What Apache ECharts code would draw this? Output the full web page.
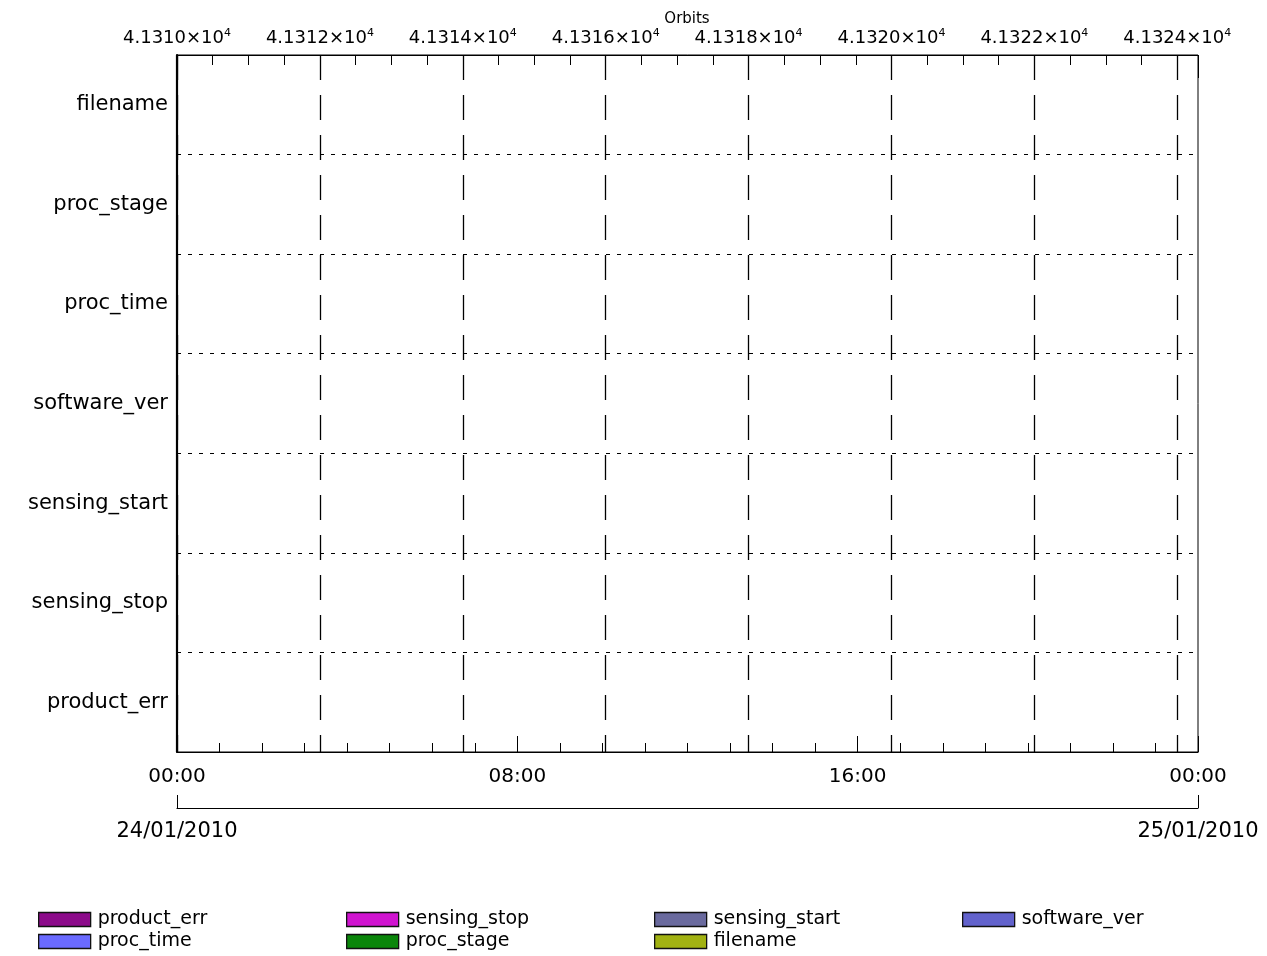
<!DOCTYPE html>
<html>
<head>
<meta charset="utf-8">
<script src="https://cdn.jsdelivr.net/npm/echarts@6/dist/echarts.min.js"></script>
<style>
html,body{margin:0;padding:0;background:#fff;}
#chart{width:1267px;height:956px;}
</style>
</head>
<body>
<div id="chart"></div>
<script>
// ---- data ----
const categories = ['filename', 'proc_stage', 'proc_time', 'software_ver', 'sensing_start', 'sensing_stop', 'product_err'];
const productErrValues = [];
const sensingStopValues = [];
const sensingStartValues = [];
const softwareVerValues = [];
const procTimeValues = [];
const procStageValues = [];
const filenameValues = [];
const timeTickLabels = ['00:00', '08:00', '16:00', '00:00'];
const dateLabels = ['24/01/2010', '25/01/2010'];
const orbitTickLabels = ['4.1310', '4.1312', '4.1314', '4.1316', '4.1318', '4.1320', '4.1322', '4.1324'];
const orbitAxisTitle = 'Orbits';
const orbitStart = 41310;
const orbitEnd = 41324.29;
const hourStart = 0;
const hourEnd = 24;

// ---- styles ----
const seriesDefs = [
  { name: 'product_err', values: productErrValues, color: '#8c0a8a' },
  { name: 'sensing_stop', values: sensingStopValues, color: '#d014d0' },
  { name: 'sensing_start', values: sensingStartValues, color: '#6a6a9e' },
  { name: 'software_ver', values: softwareVerValues, color: '#6262cc' },
  { name: 'proc_time', values: procTimeValues, color: '#6a6aff' },
  { name: 'proc_stage', values: procStageValues, color: '#0a860a' },
  { name: 'filename', values: filenameValues, color: '#a2b212' }
];
// legend layout: [name, column, row]
const legendSlots = [
  ['product_err', 0, 0], ['proc_time', 0, 1],
  ['sensing_stop', 1, 0], ['proc_stage', 1, 1],
  ['sensing_start', 2, 0], ['filename', 2, 1],
  ['software_ver', 3, 0]
];
const legendLefts = [38, 346, 654, 962];
const legendTops = [910, 932];
const FONT = 'DejaVu Sans';
const BLACK = '#000';

const chart = echarts.init(document.getElementById('chart'), null, { renderer: 'canvas' });

const option = {
  backgroundColor: '#fff',
  animation: false,
  textStyle: { fontFamily: FONT, color: BLACK },
  title: {
    text: orbitAxisTitle,
    left: 687, top: 12, padding: 0,
    textAlign: 'center',
    textStyle: { fontSize: 15, fontWeight: 'normal', color: BLACK, fontFamily: FONT }
  },
  grid: {
    left: 177, right: 69, top: 55, bottom: 204,
    show: true, borderColor: BLACK, borderWidth: 1, backgroundColor: 'transparent'
  },
  xAxis: [
    {
      type: 'value', position: 'bottom', min: hourStart, max: hourEnd, interval: 8,
      axisLine: { show: true, onZero: false, lineStyle: { color: BLACK, width: 1.2 } },
      axisTick: { show: true, inside: true, length: 16, lineStyle: { color: BLACK } },
      minorTick: { show: true, splitNumber: 8, length: 9, lineStyle: { color: BLACK } },
      axisLabel: {
        show: true, margin: 15, fontSize: 20, color: BLACK, fontFamily: FONT,
        showMinLabel: true, showMaxLabel: true,
        formatter: v => timeTickLabels[Math.round(v / 8)] || ''
      },
      splitLine: { show: false }
    },
    {
      type: 'value', position: 'bottom', offset: 56, min: hourStart, max: hourEnd, interval: 24,
      axisLine: { show: true, onZero: false, lineStyle: { color: BLACK, width: 1.2 } },
      axisTick: { show: true, inside: true, length: 13, lineStyle: { color: BLACK } },
      axisLabel: {
        show: true, margin: 13, fontSize: 21, color: BLACK, fontFamily: FONT,
        showMinLabel: true, showMaxLabel: true,
        formatter: v => dateLabels[Math.round(v / 24)] || ''
      },
      splitLine: { show: false }
    },
    {
      type: 'value', position: 'top', min: orbitStart, max: orbitEnd, interval: 2,
      axisLine: { show: true, onZero: false, lineStyle: { color: BLACK, width: 1.2 } },
      axisTick: { show: true, inside: true, length: 23, lineStyle: { color: BLACK } },
      axisLabel: {
        show: true, margin: 7, fontSize: 18, color: BLACK, fontFamily: FONT,
        showMinLabel: true, showMaxLabel: true,
        formatter: v => {
          const idx = (v - orbitStart) / 2;
          if (Math.abs(idx - Math.round(idx)) > 1e-6) return '';
          const lab = orbitTickLabels[Math.round(idx)];
          return lab ? lab + '×10{sup|4}' : '';
        },
        rich: {
          sup: { fontSize: 11, fontFamily: FONT, color: BLACK, padding: [0, 0, 9, 0] }
        }
      },
      splitLine: { show: true, showMaxLine: false, lineStyle: { color: BLACK, width: 1.3, type: [25, 15] } }
    },
    {
      type: 'value', position: 'top', min: orbitStart, max: orbitEnd, interval: 0.5,
      axisLine: { show: false, onZero: false },
      axisTick: { show: true, inside: true, length: 10, lineStyle: { color: BLACK } },
      axisLabel: { show: false },
      splitLine: { show: false }
    }
  ],
  yAxis: [
    {
      type: 'category', data: categories, inverse: true,
      axisLine: { show: true, onZero: false, lineStyle: { color: BLACK, width: 2.2 } },
      axisTick: { show: false },
      axisLabel: { show: true, margin: 9, fontSize: 21, color: BLACK, fontFamily: FONT },
      splitLine: { show: true, lineStyle: { color: BLACK, width: 1.2, type: [4, 7] } }
    }
  ],
  legend: legendSlots.map(([name, col, row]) => ({
    orient: 'horizontal',
    left: legendLefts[col],
    top: legendTops[row],
    padding: 0,
    itemWidth: 52,
    itemHeight: 14,
    icon: 'rect',
    selectedMode: false,
    itemStyle: { borderColor: '#111', borderWidth: 1.3, opacity: 1 },
    textStyle: { fontSize: 19, color: BLACK, fontFamily: FONT, lineHeight: 14, padding: [0, 0, 0, 2] },
    data: [{ name: name }]
  })),
  series: seriesDefs.map(s => ({
    type: 'scatter',
    name: s.name,
    xAxisIndex: 0,
    yAxisIndex: 0,
    data: s.values,
    itemStyle: { color: s.color, opacity: 1 }
  }))
};

chart.setOption(option);
</script>
</body>
</html>
